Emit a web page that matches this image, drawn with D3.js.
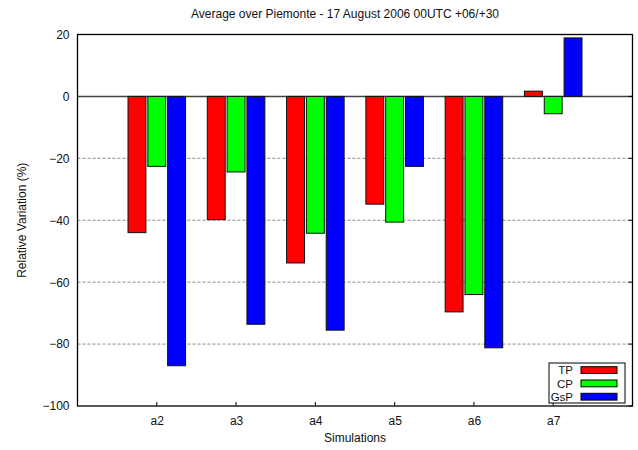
<!DOCTYPE html>
<html>
<head>
<meta charset="utf-8">
<script src="https://cdn.jsdelivr.net/npm/d3@7"></script>
<style>
  html, body { margin: 0; padding: 0; background: #fff; }
  svg { display: block; font-family: "Liberation Sans", Arial, Helvetica, sans-serif; }
</style>
</head>
<body>
<svg id="chart" width="638" height="450"></svg>
<script>
// Simulations and relative variation (%) of each precipitation component
const simulations = ["a2", "a3", "a4", "a5", "a6", "a7"];
const seriesNames = ["TP", "CP", "GsP"];
const seriesColors = ["#ff0000", "#00ff00", "#0000ff"];
const tpValues  = [-44.0, -39.8, -53.8, -34.8, -69.6, 1.7];
const cpValues  = [-22.6, -24.4, -44.2, -40.6, -64.0, -5.6];
const gspValues = [-87.0, -73.6, -75.5, -22.6, -81.2, 18.9];
const yTicks = [20, 0, -20, -40, -60, -80, -100];
const gridTicks = [-20, -40, -60, -80];

const series = [tpValues, cpValues, gspValues];

const svg = d3.select("#chart");
const plotLeft = 77.5, plotRight = 632.5, plotTop = 34.5, plotBottom = 406;

// Category positions sit at integer slots 0..5, with one empty slot either side
const x = d3.scaleLinear().domain([-1, 6]).range([plotLeft, plotRight]);
const y = d3.scaleLinear().domain([-100, 20]).range([plotBottom, plotTop]);

const slot = 0.25;       // spacing between bars within a cluster
const boxWidth = 0.226;  // bar width in x units

// Dashed grid
svg.append("g").selectAll("line").data(gridTicks).join("line")
  .attr("x1", plotLeft).attr("x2", plotRight)
  .attr("y1", d => y(d)).attr("y2", d => y(d))
  .attr("stroke", "#8a8a8a").attr("stroke-width", 1)
  .attr("stroke-dasharray", "3,2");

// Zero axis
svg.append("line")
  .attr("x1", plotLeft).attr("x2", plotRight)
  .attr("y1", y(0)).attr("y2", y(0))
  .attr("stroke", "#444").attr("stroke-width", 1.5);

// Bars
const barG = svg.append("g");
series.forEach((vals, si) => {
  barG.selectAll(null).data(vals).join("rect")
    .attr("x", (d, i) => x(i + (si - 1) * slot - boxWidth / 2))
    .attr("width", x(boxWidth) - x(0))
    .attr("y", d => y(Math.max(0, d)))
    .attr("height", d => Math.abs(y(d) - y(0)))
    .attr("fill", seriesColors[si])
    .attr("stroke", "#111").attr("stroke-width", 1);
});

// Frame
svg.append("rect")
  .attr("x", plotLeft).attr("y", plotTop)
  .attr("width", plotRight - plotLeft).attr("height", plotBottom - plotTop)
  .attr("fill", "none").attr("stroke", "#000").attr("stroke-width", 1.3);

// Y axis labels and small inward ticks on the right side
const yAxis = d3.axisLeft(y).tickValues(yTicks).tickSize(0).tickPadding(8)
  .tickFormat(d3.format("d"));
const yg = svg.append("g").attr("transform", `translate(${plotLeft},0)`).call(yAxis);
yg.select(".domain").remove();
yg.selectAll("text").attr("font-size", 12).attr("fill", "#111")
  .attr("font-family", "Liberation Sans, Arial, sans-serif");

svg.append("g").selectAll("line").data(yTicks).join("line")
  .attr("x1", plotRight - 4).attr("x2", plotRight)
  .attr("y1", d => y(d)).attr("y2", d => y(d))
  .attr("stroke", "#000");

// X axis labels with inward ticks
const xAxis = d3.axisBottom(x).tickValues(d3.range(simulations.length))
  .tickFormat(i => simulations[i]).tickSize(0).tickPadding(10);
const xg = svg.append("g").attr("transform", `translate(0,${plotBottom})`).call(xAxis);
xg.select(".domain").remove();
xg.selectAll("text").attr("font-size", 12).attr("fill", "#111")
  .attr("font-family", "Liberation Sans, Arial, sans-serif");
svg.append("g").selectAll("line").data(d3.range(simulations.length)).join("line")
  .attr("x1", d => x(d)).attr("x2", d => x(d))
  .attr("y1", plotBottom).attr("y2", plotBottom - 4)
  .attr("stroke", "#000");

// Title and axis titles
svg.append("text")
  .attr("x", 345).attr("y", 18).attr("text-anchor", "middle")
  .attr("font-size", 12).attr("fill", "#111")
  .text("Average over Piemonte - 17 August 2006 00UTC +06/+30");
svg.append("text")
  .attr("x", 355).attr("y", 442).attr("text-anchor", "middle")
  .attr("font-size", 12).attr("fill", "#111")
  .text("Simulations");
svg.append("text")
  .attr("transform", `translate(26,${(plotTop + plotBottom) / 2}) rotate(-90)`)
  .attr("text-anchor", "middle")
  .attr("font-size", 12).attr("fill", "#111")
  .text("Relative Variation (%)");

// Legend
const legend = svg.append("g");
legend.append("rect")
  .attr("x", 549).attr("y", 363).attr("width", 76).attr("height", 40)
  .attr("fill", "#fff").attr("stroke", "#000").attr("stroke-width", 1);
seriesNames.forEach((name, i) => {
  const cy = 370 + i * 13.3;
  legend.append("text")
    .attr("x", 573).attr("y", cy + 4.2).attr("text-anchor", "end")
    .attr("font-size", 11.5).attr("fill", "#111").text(name);
  legend.append("rect")
    .attr("x", 581).attr("y", cy - 3.3).attr("width", 36).attr("height", 6.8)
    .attr("fill", seriesColors[i]).attr("stroke", "#000").attr("stroke-width", 1);
});
</script>
</body>
</html>
